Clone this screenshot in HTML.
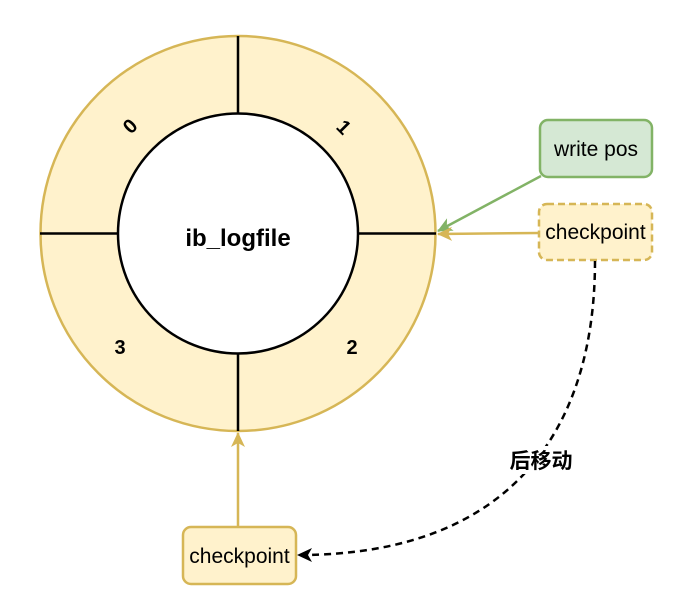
<!DOCTYPE html>
<html><head><meta charset="utf-8"><style>body{margin:0;background:#fff}svg{display:block}</style></head>
<body>
<svg width="696" height="611" xmlns="http://www.w3.org/2000/svg" font-family="Liberation Sans, Noto Sans CJK SC, sans-serif">
<defs>
<marker id="ay" markerWidth="16" markerHeight="14" refX="14" refY="7" orient="auto" markerUnits="userSpaceOnUse"><path d="M0,0 L15,7 L0,14 L4,7 Z" fill="#d6b656"/></marker>
<marker id="ag" markerWidth="16" markerHeight="14" refX="14" refY="7" orient="auto" markerUnits="userSpaceOnUse"><path d="M0,0 L15,7 L0,14 L4,7 Z" fill="#82b366"/></marker>
<marker id="ak" markerWidth="16" markerHeight="14" refX="14" refY="7" orient="auto" markerUnits="userSpaceOnUse"><path d="M0,0 L15,7 L0,14 L4,7 Z" fill="#000"/></marker>
</defs>
<circle cx="238" cy="233.5" r="197.5" fill="#fff2cc" stroke="#d6b656" stroke-width="2.5"/>
<line x1="238" y1="36" x2="238" y2="114" stroke="#000" stroke-width="2.5"/>
<line x1="238" y1="353" x2="238" y2="431" stroke="#000" stroke-width="2.5"/>
<line x1="40" y1="233.5" x2="118" y2="233.5" stroke="#000" stroke-width="2.5"/>
<line x1="358" y1="233.5" x2="436" y2="233.5" stroke="#000" stroke-width="2.5"/>
<circle cx="238" cy="233.5" r="120" fill="#fff" stroke="#000" stroke-width="2.5"/>
<text x="238" y="246" font-size="24" font-weight="bold" text-anchor="middle">ib_logfile</text>
<text x="130" y="133" font-size="20" font-weight="bold" text-anchor="middle" transform="rotate(-45 130 126)">0</text>
<text x="344" y="134" font-size="20" font-weight="bold" text-anchor="middle" transform="rotate(45 344 127)">1</text>
<text x="120" y="354" font-size="20" font-weight="bold" text-anchor="middle">3</text>
<text x="352" y="354" font-size="20" font-weight="bold" text-anchor="middle">2</text>
<rect x="540" y="120" width="112" height="57" rx="8" fill="#d5e8d4" stroke="#82b366" stroke-width="2.5"/>
<text x="596" y="156" font-size="21" text-anchor="middle">write pos</text>
<rect x="539" y="204" width="113" height="56" rx="8" fill="#fff2cc" stroke="#d6b656" stroke-width="2.5" stroke-dasharray="7,4"/>
<text x="595.5" y="239" font-size="21" text-anchor="middle">checkpoint</text>
<rect x="183" y="527" width="113" height="57" rx="8" fill="#fff2cc" stroke="#d6b656" stroke-width="2.5"/>
<text x="239.5" y="563" font-size="21" text-anchor="middle">checkpoint</text>
<line x1="541" y1="176" x2="438" y2="231" stroke="#82b366" stroke-width="2.5" marker-end="url(#ag)"/>
<line x1="539" y1="233" x2="438" y2="234" stroke="#d6b656" stroke-width="2.5" marker-end="url(#ay)"/>
<line x1="238" y1="527" x2="238" y2="433" stroke="#d6b656" stroke-width="2.5" marker-end="url(#ay)"/>
<path d="M595,261 C595,420 520,555 298,555" fill="none" stroke="#000" stroke-width="2.5" stroke-dasharray="7,5" marker-end="url(#ak)"/>
<rect x="505" y="446" width="72" height="28" fill="#fff"/>
<text x="541" y="468" font-size="21" font-weight="bold" text-anchor="middle">后移动</text>
</svg>
</body></html>
